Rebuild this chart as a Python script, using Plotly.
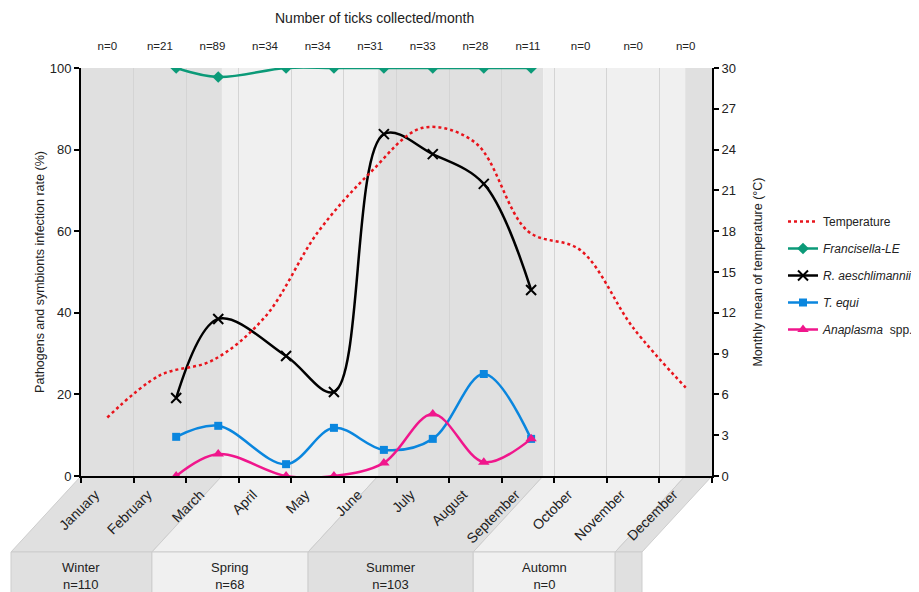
import plotly.graph_objects as go

# ---------------- data ----------------
months = ["January", "February", "March", "April", "May", "June", "July",
          "August", "September", "October", "November", "December"]
month_pos = [i + 0.5 for i in range(12)]
ticks_n = ["n=0", "n=21", "n=89", "n=34", "n=34", "n=31", "n=33", "n=28",
           "n=11", "n=0", "n=0", "n=0"]
temperature = [4.3, 7.4, 8.5, 11.7, 17.9, 22.3, 25.6, 24.5, 18.0, 16.6, 10.9, 6.5]

sample_pos = [1.81, 2.61, 3.90, 4.81, 5.76, 6.69, 7.66, 8.56]
francisella = [100, 97.8, 100, 100, 100, 100, 100, 100]
r_aeschlimannii = [19.1, 38.5, 29.4, 20.6, 83.8, 78.9, 71.6, 45.6]
t_equi = [9.6, 12.3, 2.9, 11.8, 6.4, 9.1, 25.0, 9.1]
anaplasma = [0, 5.4, 0, 0, 3.2, 15.2, 3.4, 9.1]

seasons = ["Winter", "Spring", "Summer", "Automn", ""]
season_n = ["n=110", "n=68", "n=103", "n=0", ""]
season_edges = [0, 2.68, 5.65, 8.79, 11.49, 12]
season_colors = ["#e0e0e0", "#f0f0f0", "#e0e0e0", "#f0f0f0", "#e0e0e0"]

# month label anchor offset (labels are rotated and end left of month centre)
label_shift = -0.23
month_label_pos = [p + label_shift for p in month_pos]

# ---------------- figure ----------------
fig = go.Figure()

fig.add_trace(go.Scatter(
    x=month_pos, y=temperature, name="Temperature", yaxis="y2",
    mode="lines", line=dict(color="#e8141c", width=2.5, dash="dot", shape="spline"),
    legendgroup="t"))
fig.add_trace(go.Scatter(
    x=sample_pos, y=francisella, name="<i>Francisella-LE</i>",
    mode="lines+markers", line=dict(color="#0b9a78", width=2.5, shape="spline"),
    marker=dict(symbol="diamond", size=9, color="#0b9a78"), legendgroup="f"))
fig.add_trace(go.Scatter(
    x=sample_pos, y=r_aeschlimannii, name="<i>R. aeschlimannii</i>",
    mode="lines+markers", line=dict(color="black", width=2.5, shape="spline"),
    marker=dict(symbol="x-thin", size=10, color="black",
                line=dict(color="black", width=2)), legendgroup="r"))
fig.add_trace(go.Scatter(
    x=sample_pos, y=t_equi, name="<i>T. equi</i>",
    mode="lines+markers", line=dict(color="#0a86de", width=2.5, shape="spline"),
    marker=dict(symbol="square", size=8, color="#0a86de"), legendgroup="e"))
fig.add_trace(go.Scatter(
    x=sample_pos, y=anaplasma, name="<i>Anaplasma</i>  spp.",
    mode="lines+markers", line=dict(color="#f0168c", width=2.5, shape="spline"),
    marker=dict(symbol="triangle-up", size=10, color="#f0168c"), legendgroup="a"))
# invisible carrier trace so the top (tick count) axis is drawn
fig.add_trace(go.Scatter(
    x=month_pos, y=[None] * len(month_pos), xaxis="x2", yaxis="y",
    mode="markers", showlegend=False, hoverinfo="skip"))

shapes = []
# season bands inside plot
for i in range(len(season_colors)):
    shapes.append(dict(type="rect", xref="x", yref="y", x0=season_edges[i],
                       x1=season_edges[i + 1], y0=0, y1=100, layer="below",
                       fillcolor=season_colors[i], line=dict(width=0)))

# page offset: the html body has an 8px margin
OFF = 8
L, R, T, B = 81, 712, 68, 476   # plot area in page pixels
W, H = 919 - OFF, 592 - OFF

def px(xd):
    return xd / 12.0
dx = 70 / (R - L)
yf = -76 / (B - T)
yb = -0.40
annotations = []
for i in range(len(season_colors)):
    xa, xb = px(season_edges[i]), px(season_edges[i + 1])
    shapes.append(dict(type="path", xref="paper", yref="paper", layer="below",
                       path=f"M {xa},0 L {xb},0 L {xb-dx},{yf} L {xa-dx},{yf} Z",
                       fillcolor=season_colors[i], line=dict(color="#cdcdcd", width=1)))
    shapes.append(dict(type="rect", xref="paper", yref="paper", layer="below",
                       x0=xa - dx, x1=xb - dx, y0=yb, y1=yf,
                       fillcolor=season_colors[i], line=dict(color="#cdcdcd", width=1)))
    if seasons[i]:
        annotations.append(dict(xref="paper", yref="paper", x=(xa + xb) / 2 - dx,
                                y=-100 / (B - T), text=f"{seasons[i]}<br>{season_n[i]}",
                                showarrow=False, font=dict(size=13, color="#222"),
                                xanchor="center", yanchor="middle"))

annotations.append(dict(xref="paper", yref="paper", x=(374 - L) / (R - L),
                        y=(B - 18) / (B - T), text="Number of ticks collected/month",
                        showarrow=False, font=dict(size=14, color="#222"),
                        xanchor="center", yanchor="middle"))

fig.update_layout(
    width=W, height=H,
    margin=dict(l=L - OFF, r=W - (R - OFF), t=T - OFF, b=H - (B - OFF), autoexpand=False),
    paper_bgcolor="white", plot_bgcolor="white",
    font=dict(family="Arial, Liberation Sans, sans-serif", size=13, color="#222"),
    shapes=shapes, annotations=annotations,
    xaxis=dict(range=[0, 12], tickmode="array", tickvals=month_label_pos, ticktext=months,
               tickangle=-45, ticks="", showline=True, linecolor="black", linewidth=2,
               showgrid=False, zeroline=False, tickfont=dict(size=14), automargin=False,
               ticklabelstandoff=3,
               minor=dict(tickmode="array", tickvals=list(range(13)), ticks="outside",
                          ticklen=5, tickwidth=1.5, tickcolor="black",
                          showgrid=True, gridcolor="#d4d4d4", gridwidth=1)),
    xaxis2=dict(range=[0, 12], overlaying="x", side="top", anchor="y",
                tickmode="array", tickvals=month_pos, ticktext=ticks_n,
                ticks="", showline=False, showgrid=False, zeroline=False,
                tickfont=dict(size=11.5), ticklabelstandoff=15, automargin=False),
    yaxis=dict(range=[0, 100], tickmode="array", tickvals=[0, 20, 40, 60, 80, 100],
               ticks="outside", ticklen=5, tickwidth=1.5, tickcolor="black",
               showline=True, linecolor="black", linewidth=2, showgrid=False,
               zeroline=False, automargin=False,
               title=dict(text="Pathogens and symbionts infection rate (%)",
                          font=dict(size=12.5), standoff=2)),
    yaxis2=dict(range=[0, 30], overlaying="y", side="right", anchor="x",
                tickmode="linear", tick0=0, dtick=3,
                ticks="outside", ticklen=5, tickwidth=1.5, tickcolor="black",
                showline=True, linecolor="black", linewidth=2, showgrid=False,
                zeroline=False, automargin=False,
                title=dict(text="Monthly mean of temperature (°C)",
                           font=dict(size=12.5), standoff=18)),
    legend=dict(x=(783 - L) / (R - L), y=(B - 207) / (B - T), xanchor="left",
                yanchor="top", font=dict(size=12, color="#222"),
                bgcolor="rgba(0,0,0,0)", tracegroupgap=8, traceorder="grouped",
                borderwidth=0),
    showlegend=True,
)

fig.write_html("out.html")
